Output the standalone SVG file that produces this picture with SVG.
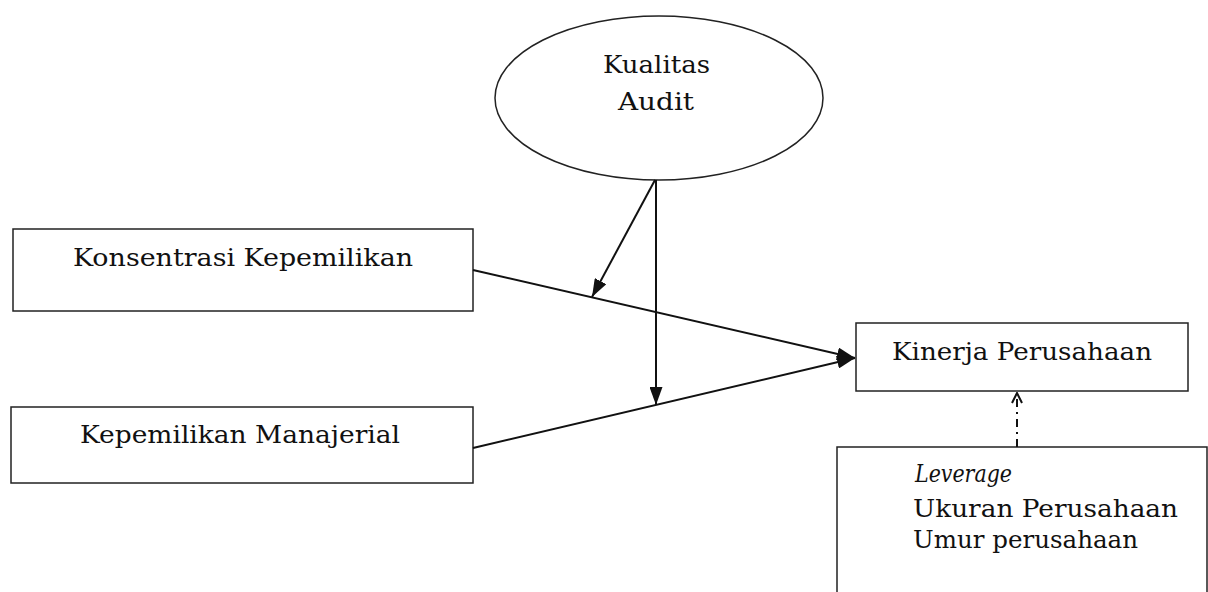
<svg xmlns="http://www.w3.org/2000/svg" width="1208" height="592" viewBox="0 0 1208 592">
<style>
.box{fill:#fff;stroke:#222;stroke-width:1.5}
.t{font-family:"DejaVu Serif","Liberation Serif",serif;font-size:24px;fill:#111}
.ln{stroke:#111;stroke-width:2;fill:none}
</style>
<defs>
<marker id="ah" viewBox="0 0 18 13" refX="18" refY="6.5" markerWidth="18" markerHeight="13" markerUnits="userSpaceOnUse" orient="auto">
<path d="M0,0 L18,6.5 L0,13 Z" fill="#111"/>
</marker>
<marker id="oh" viewBox="0 0 12 12" refX="11" refY="6" markerWidth="12" markerHeight="12" markerUnits="userSpaceOnUse" orient="auto">
<path d="M1,1 L11,6 L1,11" fill="none" stroke="#111" stroke-width="2"/>
</marker>
</defs>
<rect width="1208" height="592" fill="#fff"/>
<g id="kualitas-audit">
<ellipse cx="659" cy="98" rx="164" ry="82" class="box"/>
<text class="t" x="603" y="73" textLength="107" lengthAdjust="spacingAndGlyphs">Kualitas</text>
<text class="t" x="618" y="110" textLength="76" lengthAdjust="spacingAndGlyphs">Audit</text>
</g>
<g id="konsentrasi">
<rect x="13" y="229" width="460" height="82" class="box"/>
<text class="t" x="73" y="266" textLength="340" lengthAdjust="spacingAndGlyphs">Konsentrasi Kepemilikan</text>
</g>
<g id="manajerial">
<rect x="11" y="407" width="462" height="76" class="box"/>
<text class="t" x="80" y="443" textLength="320" lengthAdjust="spacingAndGlyphs">Kepemilikan Manajerial</text>
</g>
<g id="kinerja">
<rect x="856" y="323" width="332" height="68" class="box"/>
<text class="t" x="892" y="360" textLength="260" lengthAdjust="spacingAndGlyphs">Kinerja Perusahaan</text>
</g>
<g id="kontrol">
<rect x="837" y="447" width="370" height="160" class="box"/>
<text class="t" x="915" y="482" font-style="italic" font-size="20" textLength="97" lengthAdjust="spacingAndGlyphs">Leverage</text>
<text class="t" x="913" y="517" textLength="265" lengthAdjust="spacingAndGlyphs">Ukuran Perusahaan</text>
<text class="t" x="913" y="548" textLength="225" lengthAdjust="spacingAndGlyphs">Umur perusahaan</text>
</g>
<g id="connectors">
<line x1="473" y1="270" x2="855" y2="358" class="ln" marker-end="url(#ah)"/>
<line x1="473" y1="448" x2="855" y2="358" class="ln" marker-end="url(#ah)"/>
<line x1="655" y1="180" x2="592" y2="297" class="ln" marker-end="url(#ah)"/>
<line x1="656" y1="180" x2="656" y2="405" class="ln" marker-end="url(#ah)"/>
<line x1="1017" y1="447" x2="1017" y2="393" class="ln" stroke-dasharray="8,5,2,5" marker-end="url(#oh)"/>
</g>
</svg>
